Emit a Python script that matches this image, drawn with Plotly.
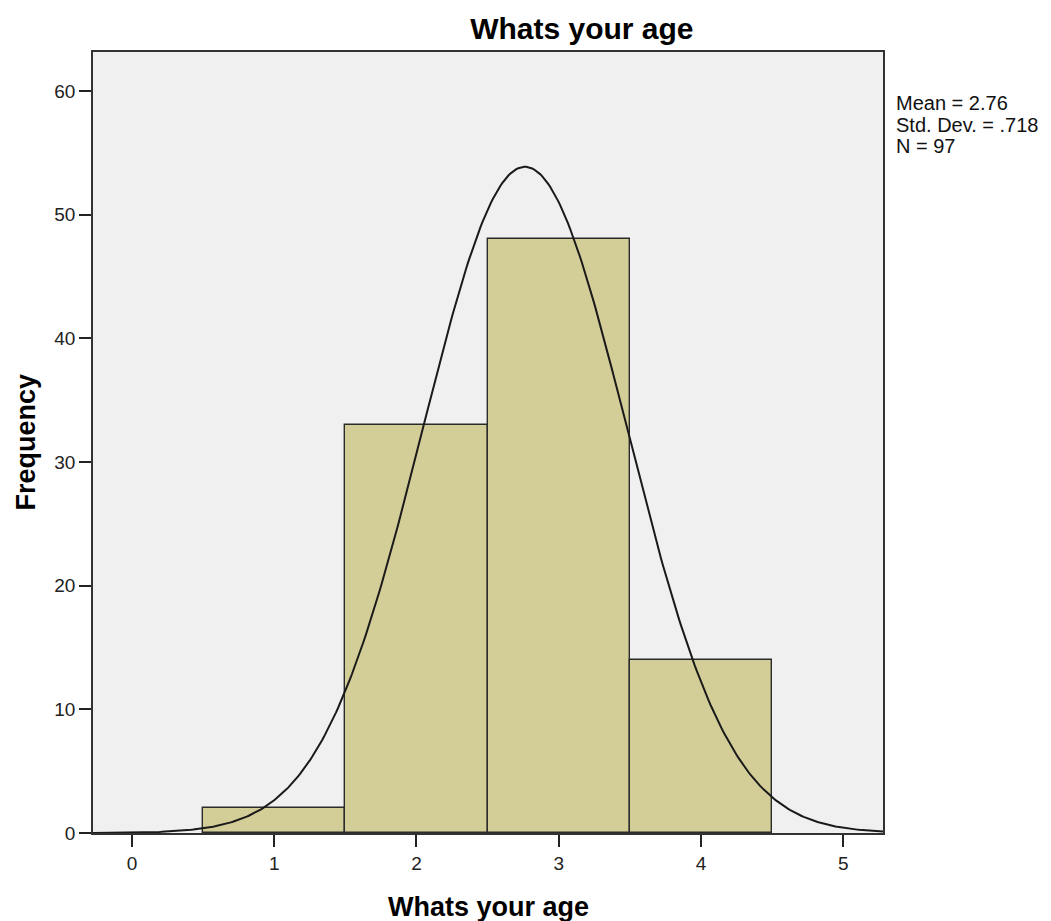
import numpy as np
import plotly.graph_objects as go

# Data
categories = [1, 2, 3, 4]
frequencies = [2, 33, 48, 14]
x_tick_vals = [0, 1, 2, 3, 4, 5]
y_tick_vals = [0, 10, 20, 30, 40, 50, 60]

vals = np.repeat(categories, frequencies)
n = len(vals)
mean = vals.mean()
sd = vals.std(ddof=1)

xs = np.linspace(-0.28, 5.28, 400)
ys = n * 1.0 / (sd * np.sqrt(2 * np.pi)) * np.exp(-0.5 * ((xs - mean) / sd) ** 2)

fig = go.Figure()
fig.add_trace(go.Bar(x=categories, y=frequencies, width=1,
                     marker=dict(color="#D3CE98", line=dict(color="#2b2b2b", width=1.4)),
                     showlegend=False, hoverinfo="x+y"))
fig.add_trace(go.Scatter(x=xs, y=ys, mode="lines",
                         line=dict(color="#1a1a1a", width=2), showlegend=False))

sans = "Liberation Sans, Arial"

fig.update_layout(
    width=1051, height=921,
    margin=dict(l=85, r=176, t=44, b=96),
    paper_bgcolor="white", plot_bgcolor="#F0F0F0",
    bargap=0,
    title=dict(text="<b>Whats your age</b>", x=0.546, xanchor="center", y=0.978, yanchor="middle",
               font=dict(family="Liberation Sans Narrow, Arial Narrow, Liberation Sans, Arial",
                         size=30, color="black")),
    font=dict(family=sans, color="#222"),
)
fig.update_xaxes(range=[-0.274, 5.28], tickvals=x_tick_vals, ticks="outside", ticklen=12,
                 tickwidth=1.6, tickcolor="#222", showgrid=False, zeroline=False,
                 showline=True, linecolor="#333", linewidth=1.8, mirror=True,
                 tickfont=dict(family=sans, size=19, color="#222"))
fig.update_yaxes(range=[0, 63.15], tickvals=y_tick_vals, ticks="outside", ticklen=12,
                 tickwidth=1.6, tickcolor="#222", showgrid=False, zeroline=False,
                 showline=True, linecolor="#333", linewidth=1.8, mirror=True,
                 tickfont=dict(family=sans, size=19, color="#222"))

fig.add_annotation(xref="paper", yref="paper", x=0.5, y=-0.0947, xanchor="center", yanchor="middle",
                   showarrow=False, text="<b>Whats your age</b>",
                   font=dict(family=sans, size=27, color="black"))
fig.add_annotation(xref="paper", yref="paper", x=-0.086, y=0.5, xanchor="center", yanchor="middle",
                   showarrow=False, text="<b>Frequency</b>", textangle=-90,
                   font=dict(family=sans, size=27, color="black"))

stats_lines = [f"Mean = {mean:.2f}",
               f"Std. Dev. = {('%.3f' % sd).lstrip('0')}",
               f"N = {n}"]
stats_y = [0.9347, 0.9065, 0.8796]
for txt, yy in zip(stats_lines, stats_y):
    fig.add_annotation(xref="paper", yref="paper", x=1.0140, y=yy, xanchor="left", yanchor="middle",
                       align="left", showarrow=False, text=txt,
                       font=dict(family=sans, size=20, color="#111"))

fig.write_html("out.html")
